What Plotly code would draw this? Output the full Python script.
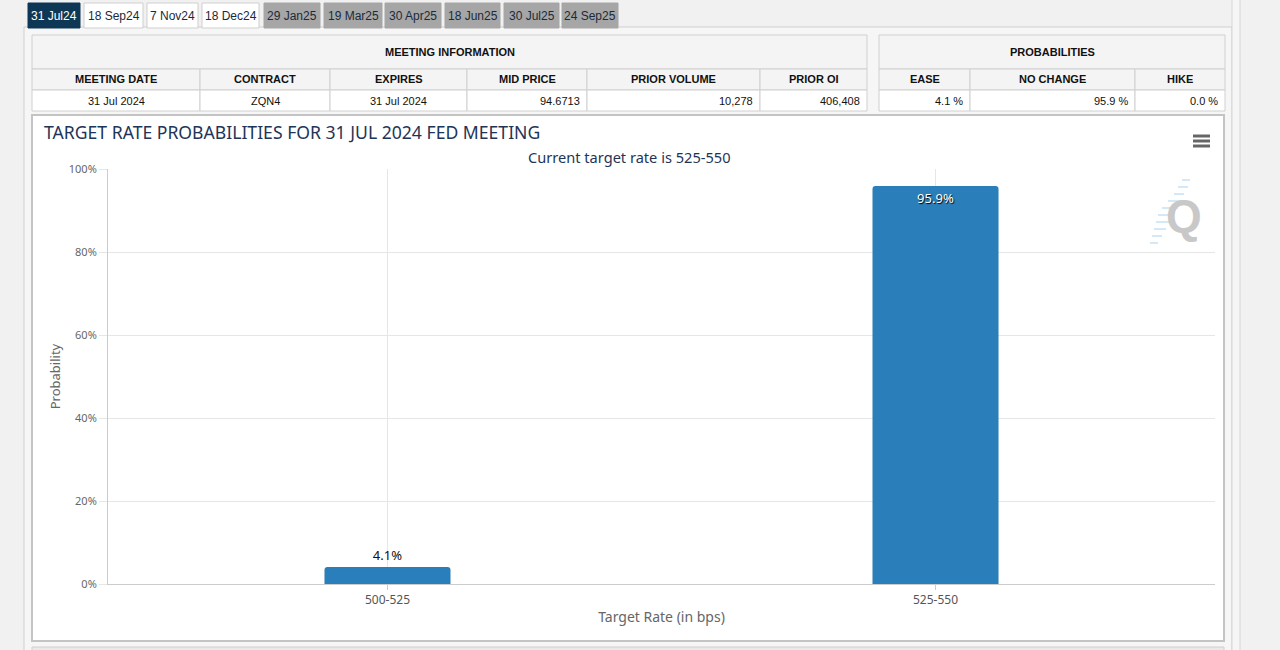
import plotly.graph_objects as go

# ---------------- data ----------------
rate_bins = ["500-525", "525-550"]
probabilities = [4.1, 95.9]
bar_labels = ["4.1%", "95.9%"]

meeting_tabs = ["31 Jul24", "18 Sep24", "7 Nov24", "18 Dec24", "29 Jan25",
                "19 Mar25", "30 Apr25", "18 Jun25", "30 Jul25", "24 Sep25"]
tab_states = ["active", "open", "open", "open", "grey", "grey", "grey", "grey", "grey", "grey"]

info_headers = ["MEETING DATE", "CONTRACT", "EXPIRES", "MID PRICE", "PRIOR VOLUME", "PRIOR OI"]
info_values = ["31 Jul 2024", "ZQN4", "31 Jul 2024", "94.6713", "10,278", "406,408"]
prob_headers = ["EASE", "NO CHANGE", "HIKE"]
prob_values = ["4.1 %", "95.9 %", "0.0 %"]

chart_title = "TARGET RATE PROBABILITIES FOR 31 JUL 2024 FED MEETING"
chart_subtitle = "Current target rate is 525-550"

# ---------------- layout helpers ----------------
W, H = 1280, 650
PL, PR, PT, PB = 108, 1215, 169, 584   # plot area in pixels
def px(x):
    return (x - PL) / (PR - PL)
def py(y):
    return (PB - y) / (PB - PT)

shapes = []
annotations = []

def rect(x0, y0, x1, y1, fill, line="#d0d0d0", lw=1, layer="below"):
    shapes.append(dict(type="rect", xref="paper", yref="paper",
                       x0=px(x0), x1=px(x1), y0=py(y1), y1=py(y0),
                       fillcolor=fill, line=dict(color=line, width=lw), layer=layer))

def text(x, y, s, size=11, color="#222", bold=False, xanchor="center",
         family="Liberation Sans, Arial, sans-serif"):
    annotations.append(dict(xref="paper", yref="paper", x=px(x), y=py(y),
                            text=("<b>%s</b>" % s) if bold else s, showarrow=False,
                            xanchor=xanchor, yanchor="middle",
                            font=dict(size=size, color=color, family=family)))

# page background pieces
rect(24, 27, 1232, 660, "#f6f6f6", line="#cfcfcf", lw=1)
rect(1232, -5, 1240, 660, "#f6f6f6", line="#d6d6d6", lw=1)

# tabs
tab_x = [(28, 80), (84, 143), (147, 198), (202, 259), (264, 320),
         (324, 382), (385, 441), (445, 500), (504, 559), (562, 618)]
for label, state, (x0, x1) in zip(meeting_tabs, tab_states, tab_x):
    if state == "active":
        fill, fc, ln = "#0e3756", "#ffffff", "#0e3756"
    elif state == "open":
        fill, fc, ln = "#ffffff", "#1a2a3a", "#cfcfcf"
    else:
        fill, fc, ln = "#a6a6a6", "#1a2a3a", "#a6a6a6"
    rect(x0, 3, x1, 28, fill, line=ln)
    text((x0 + x1) / 2, 15.5, label, size=12, color=fc)

# meeting information table
info_cols = [32, 200, 330, 467, 587, 760, 867]
rect(32, 35, 867, 69, "#f4f4f4")
text((32 + 867) / 2, 52, "MEETING INFORMATION", size=11, bold=True, color="#111")
for i, (h, v) in enumerate(zip(info_headers, info_values)):
    x0, x1 = info_cols[i], info_cols[i + 1]
    rect(x0, 69, x1, 90, "#f4f4f4")
    rect(x0, 90, x1, 111, "#ffffff")
    text((x0 + x1) / 2, 79.5, h, size=11, bold=True, color="#111")
    if i < 3:
        text((x0 + x1) / 2, 101, v, size=11, color="#111")
    else:
        text(x1 - 5, 101, v, size=11, color="#111", xanchor="right")

# probabilities table
prob_cols = [879, 970, 1135, 1225]
rect(879, 35, 1225, 69, "#f4f4f4")
text((879 + 1225) / 2, 52, "PROBABILITIES", size=11, bold=True, color="#111")
for i, (h, v) in enumerate(zip(prob_headers, prob_values)):
    x0, x1 = prob_cols[i], prob_cols[i + 1]
    rect(x0, 69, x1, 90, "#f4f4f4")
    rect(x0, 90, x1, 111, "#ffffff")
    text((x0 + x1) / 2, 79.5, h, size=11, bold=True, color="#111")
    text(x1 - 5, 101, v, size=11, color="#111", xanchor="right")

# chart container
rect(32, 115, 1224, 641, "#ffffff", line="#c4c4c4", lw=2)
rect(32, 647, 1224, 660, "#e9e9e9", line="#cfcfcf", lw=1)

chart_font = "Noto Sans, Open Sans, sans-serif"
text(42, 132, chart_title, size=17.6, color="#1e3557", xanchor="left", family=chart_font)
text(629, 157, chart_subtitle, size=14.6, color="#1e3557", family=chart_font)

# hamburger menu
for yy in (136, 141, 146):
    shapes.append(dict(type="line", xref="paper", yref="paper",
                       x0=px(1193), x1=px(1210), y0=py(yy), y1=py(yy),
                       line=dict(color="#666666", width=3), layer="above"))

# Q watermark
for (x0, x1, yy) in [(1182, 1190, 180), (1178, 1188, 187), (1174, 1184, 194),
                     (1168, 1182, 201), (1162, 1178, 208), (1158, 1174, 215),
                     (1156, 1170, 222), (1154, 1166, 229), (1152, 1162, 236),
                     (1150, 1158, 243)]:
    shapes.append(dict(type="line", xref="paper", yref="paper",
                       x0=px(x0), x1=px(x1), y0=py(yy), y1=py(yy),
                       line=dict(color="#d3e9f7", width=2), layer="above"))
text(1184, 216, "Q", size=46, color="#c8c8c8", bold=True,
     family="Liberation Sans, Arial, sans-serif")

# ---------------- figure ----------------
fig = go.Figure()
fig.add_trace(go.Bar(
    x=rate_bins, y=probabilities, text=bar_labels,
    textposition=["outside", "inside"], insidetextanchor="end",
    textangle=0, cliponaxis=False,
    marker=dict(color="#2a7fba", line=dict(width=0), cornerradius=3),
    outsidetextfont=dict(size=13, color="#111111", family=chart_font),
    insidetextfont=dict(size=13, color="#ffffff", family=chart_font,
                        shadow="1px 1px 1px #000000"),
    hoverinfo="skip",
))

fig.update_layout(
    width=W, height=H, autosize=False,
    margin=dict(l=PL, r=W - PR, t=PT, b=H - PB, pad=0),
    paper_bgcolor="#f1f1f1", plot_bgcolor="rgba(0,0,0,0)",
    shapes=shapes, annotations=annotations,
    showlegend=False, bargap=0.77,
    font=dict(family=chart_font, color="#666666"),
)
fig.update_yaxes(
    range=[0, 100], dtick=20, ticksuffix="%",
    showgrid=True, gridcolor="#e6e6e6", gridwidth=1,
    showline=True, linecolor="#cccccc", linewidth=1,
    ticks="outside", ticklen=8, tickcolor="#e6e6e6",
    tickfont=dict(size=11, color="#666666", family=chart_font),
    zeroline=False,
    title=dict(text="Probability", font=dict(size=13, color="#666666", family=chart_font),
               standoff=5),
)
fig.update_xaxes(
    range=[-0.51, 1.51],
    showgrid=True, gridcolor="#e6e6e6", gridwidth=1,
    showline=True, linecolor="#cccccc", linewidth=1,
    ticks="outside", ticklen=5, tickcolor="#cccccc",
    tickfont=dict(size=12, color="#555555", family=chart_font),
    title=dict(text="Target Rate (in bps)", font=dict(size=14, color="#666666", family=chart_font),
               standoff=4),
)

fig.write_html(
    "out.html",
    config={"displayModeBar": False},
    post_script="document.body.style.margin='0';document.body.style.background='#f1f1f1';",
)
